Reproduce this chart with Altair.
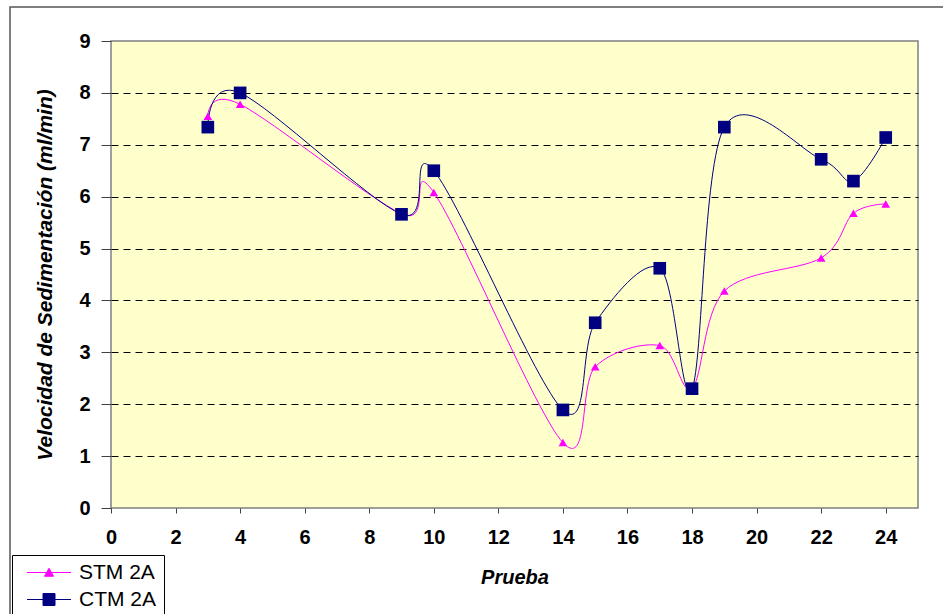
import altair as alt
import pandas as pd

# Test number (x) and settling velocity (ml/min) for both series
pruebas = [3, 4, 9, 10, 14, 15, 17, 18, 19, 22, 23, 24]
stm_2a = [7.55, 7.78, 5.67, 6.08, 1.26, 2.72, 3.13, 2.31, 4.18, 4.82, 5.68, 5.86]
ctm_2a = [7.34, 8.00, 5.66, 6.50, 1.89, 3.57, 4.62, 2.30, 7.34, 6.72, 6.30, 7.14]

series = ["STM 2A", "CTM 2A"]
colors = ["#FF00FF", "#000080"]
x_ticks = [0, 2, 4, 6, 8, 10, 12, 14, 16, 18, 20, 22, 24]
y_ticks = [0, 1, 2, 3, 4, 5, 6, 7, 8, 9]

df = pd.concat([
    pd.DataFrame({"Prueba": pruebas, "Velocidad": stm_2a, "Serie": series[0]}),
    pd.DataFrame({"Prueba": pruebas, "Velocidad": ctm_2a, "Serie": series[1]}),
], ignore_index=True)

W, H = 807, 467
FONT = "Liberation Sans"

# legend symbols: a short line with the series marker in its middle
tri_path = "M-4.4,0H4.4M-0.9,0.75L0,-0.85L0.9,0.75Z"
sq_path = "M-4.4,0H4.4M-1.2,-1.2H1.2V1.2H-1.2Z"

legend = alt.Legend(
    title=None,
    orient="none",
    legendX=-99,
    legendY=514,
    fillColor="white",
    strokeColor="#000000",
    padding=7,
    rowPadding=5,
    symbolSize=100,
    symbolOffset=19.5,
    labelOffset=19.5,
    symbolOpacity=1,
    symbolStrokeWidth=1,
    labelFont=FONT,
    labelFontSize=21,
    labelColor="black",
    labelExpr="datum.label + '\u00a0\u00a0'",
)

x_enc = alt.X(
    "Prueba:Q",
    scale=alt.Scale(domain=[0, 25], nice=False),
    axis=alt.Axis(
        values=x_ticks, title="Prueba", grid=False, domain=False, labelFlush=False,
        tickSize=5, tickColor="#404040", labelPadding=14,
        labelFont=FONT, labelFontSize=20, labelFontWeight="bold", labelColor="black",
        titleFont=FONT, titleFontSize=20, titleFontWeight="bold", titleFontStyle="italic",
        titleColor="black", titleY=69, titleBaseline="middle",
    ),
)
y_enc = alt.Y(
    "Velocidad:Q",
    scale=alt.Scale(domain=[0, 9], nice=False),
    axis=alt.Axis(
        values=y_ticks, title="Velocidad de Sedimentación (ml/min)", domain=False, labelFlush=False,
        grid=True, gridColor="black", gridDash=[7, 5], gridWidth=1,
        gridOpacity={"condition": {"test": "datum.value == 0 || datum.value == 9", "value": 0}, "value": 1},
        tickSize=10, tickColor="#404040", labelPadding=11,
        labelFont=FONT, labelFontSize=20, labelFontWeight="bold", labelColor="black",
        titleFont=FONT, titleFontSize=21, titleFontWeight="bold", titleFontStyle="italic",
        titleColor="black", titleX=-66, titleBaseline="middle",
    ),
)

color_scale = alt.Scale(domain=series, range=colors)
base = alt.Chart(df)
stm = base.transform_filter(alt.datum.Serie == series[0])
ctm = base.transform_filter(alt.datum.Serie == series[1])

stm_line = stm.mark_line(interpolate="cardinal", strokeWidth=1, color=colors[0]).encode(x=x_enc, y=y_enc)
ctm_line = ctm.mark_line(interpolate="cardinal", strokeWidth=1, color=colors[1]).encode(x="Prueba:Q", y="Velocidad:Q")

stm_points = stm.mark_point(
    shape="triangle-up", filled=True, size=75, opacity=1, color=colors[0]
).encode(x="Prueba:Q", y="Velocidad:Q")

ctm_points = ctm.mark_point(
    shape="square", filled=True, size=160, opacity=1, color=colors[1]
).encode(x="Prueba:Q", y="Velocidad:Q")

# invisible layer that only feeds the legend (line + marker symbols)
legend_layer = base.mark_point(filled=True, opacity=0).encode(
    x="Prueba:Q", y="Velocidad:Q",
    fill=alt.Fill("Serie:N", scale=color_scale, legend=legend),
    stroke=alt.Stroke("Serie:N", scale=color_scale, legend=legend),
    shape=alt.Shape("Serie:N", scale=alt.Scale(domain=series, range=[tri_path, sq_path]), legend=legend),
)

# outer frame of the chart
frame = alt.Chart(pd.DataFrame({"marco": [0]})).mark_rect(
    filled=False, stroke="#555555", strokeWidth=1.5
).encode(
    x=alt.value(-101), x2=alt.value(W + 60), y=alt.value(-34), y2=alt.value(H + 140)
)

chart = alt.layer(frame, stm_line, ctm_line, stm_points, ctm_points, legend_layer).properties(
    width=W, height=H,
    autosize=alt.AutoSizeParams(type="none"),
    padding={"left": 111, "top": 41, "right": 25, "bottom": 106},
    background="white",
).configure_view(
    fill="#FFFFCC", stroke="#808080", strokeWidth=1.5
)

chart.save("out.html", embed_options={"renderer": "svg", "actions": False})
